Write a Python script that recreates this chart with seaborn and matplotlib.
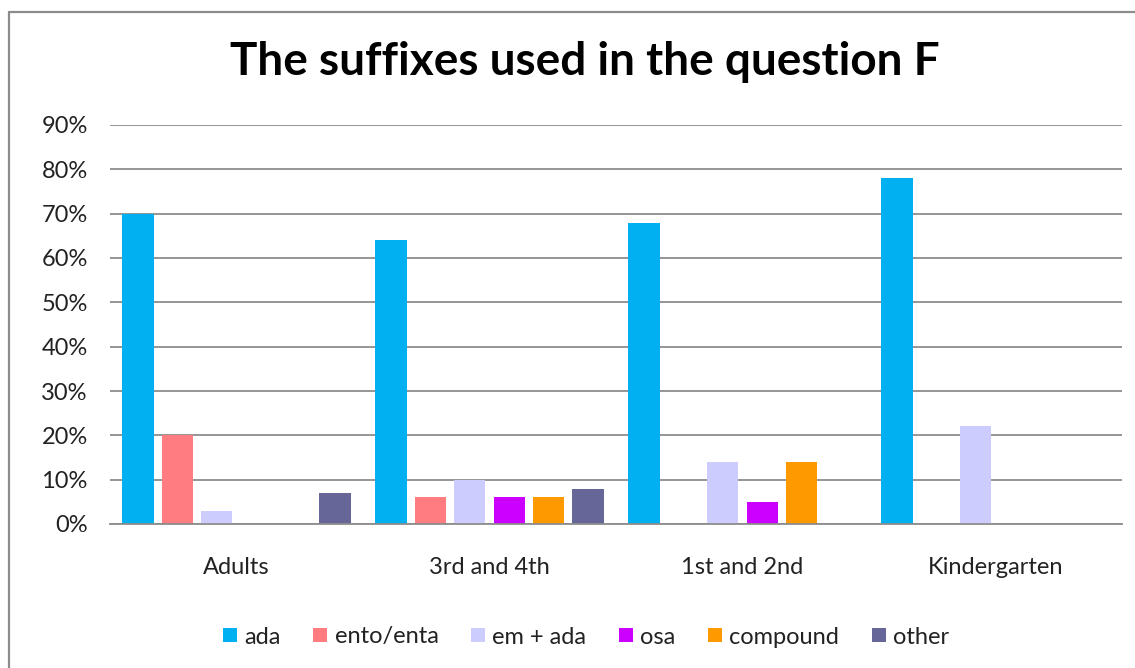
import matplotlib
matplotlib.use("Agg")
import matplotlib.pyplot as plt
from matplotlib.lines import Line2D
from matplotlib.ticker import FuncFormatter
import pandas as pd
import seaborn as sns

# Groups of respondents and the suffix categories
groups = ["Adults", "3rd and 4th", "1st and 2nd", "Kindergarten"]
suffixes = ["ada", "ento/enta", "em + ada", "osa", "compound", "other"]

# Share of answers per suffix, one list per suffix (order follows `groups`)
ada = [0.70, 0.64, 0.68, 0.78]
ento_enta = [0.20, 0.06, 0.00, 0.00]
em_ada = [0.03, 0.10, 0.14, 0.22]
osa = [0.00, 0.06, 0.05, 0.00]
compound = [0.00, 0.06, 0.14, 0.00]
other = [0.07, 0.08, 0.00, 0.00]

y_ticks = [0.0, 0.1, 0.2, 0.3, 0.4, 0.5, 0.6, 0.7, 0.8, 0.9]

colors = ["#00B0F0", "#FF7C80", "#CCCCFF", "#CC00FF", "#FF9900", "#666699"]

series = [ada, ento_enta, em_ada, osa, compound, other]
rows = []
for name, vals in zip(suffixes, series):
    for g, v in zip(groups, vals):
        rows.append({"group": g, "suffix": name, "share": v})
df = pd.DataFrame(rows)

sns.set_theme(style="white")
plt.rcParams["font.family"] = ["Lato", "DejaVu Sans"]

fig = plt.figure(figsize=(11.35, 6.68), dpi=100)
fig.patch.set_facecolor("white")
ax = fig.add_axes([110 / 1135, 1 - 524 / 668, (1122 - 110) / 1135, (524 - 125) / 668])

sns.barplot(
    data=df, x="group", y="share", hue="suffix",
    order=groups, hue_order=suffixes, palette=colors,
    width=0.934, gap=0.21, linewidth=0, saturation=1,
    errorbar=None, ax=ax, legend=True,
)

ax.set_ylim(0, 0.9)
ax.set_xlim(-0.5, len(groups) - 0.5)
ax.set_yticks(y_ticks)
ax.yaxis.set_major_formatter(FuncFormatter(lambda v, _: f"{round(v * 100)}%"))
ax.grid(axis="y", color="#8c8c8c", linewidth=1.3)
ax.set_axisbelow(True)
for s in ["left", "right", "top"]:
    ax.spines[s].set_visible(False)
ax.spines["bottom"].set_color("#8c8c8c")
ax.spines["bottom"].set_linewidth(1.3)
ax.set_xlabel("")
ax.set_ylabel("")
ax.tick_params(axis="y", length=0, pad=16, labelsize=17, labelcolor="#222222")
ax.tick_params(axis="x", length=0, pad=24, labelsize=17, labelcolor="#222222")

handles, labels = ax.get_legend_handles_labels()
ax.legend_.remove()
fig.legend(
    handles, labels, loc="center", bbox_to_anchor=(586 / 1135, 1 - 637 / 668),
    ncol=6, frameon=False, fontsize=17, handlelength=0.6, handleheight=0.55,
    handletextpad=0.3, columnspacing=1.38,
    labelcolor="#222222",
)

fig.text(585 / 1135, 1 - 62 / 668, "The suffixes used in the question F",
         ha="center", va="center", fontsize=33, fontweight="bold", color="black")

# Chart frame
fig.add_artist(Line2D([9 / 1135, 9 / 1135], [0, 1 - 12 / 668],
                      transform=fig.transFigure, color="#8c8c8c", linewidth=1.6))
fig.add_artist(Line2D([9 / 1135, 1], [1 - 12 / 668, 1 - 12 / 668],
                      transform=fig.transFigure, color="#8c8c8c", linewidth=1.6))

fig.savefig("out.png", dpi=100, facecolor="white")
